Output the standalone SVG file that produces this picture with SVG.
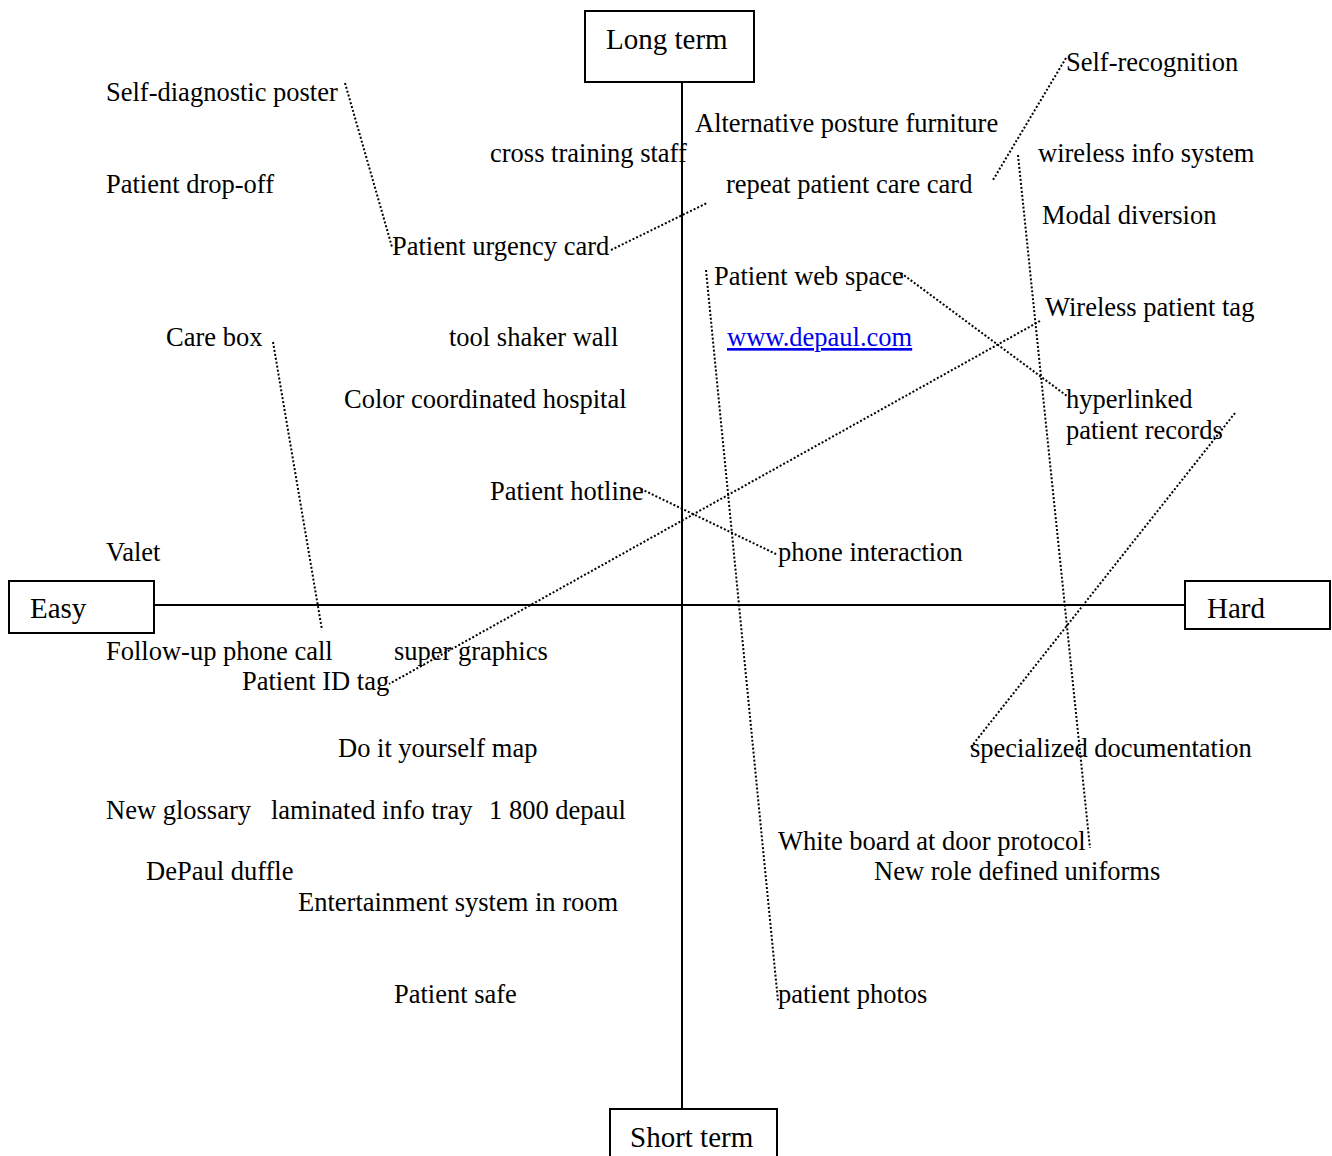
<svg xmlns="http://www.w3.org/2000/svg" width="1332" height="1156" viewBox="0 0 1332 1156">
  <style>
    text { font-family: "Liberation Serif", "Times New Roman", serif; fill: #000; }
    .item { font-size: 26.5px; }
    .axis-label { font-size: 29px; }
    .box { fill: #fff; stroke: #000; stroke-width: 2; }
    .axis { stroke: #000; stroke-width: 2; fill: none; }
    .link { stroke: #000; stroke-width: 2; stroke-dasharray: 2 2; fill: none; }
    .url { fill: #0000ee; text-decoration: underline; }
  </style>
  <rect width="1332" height="1156" fill="#fff"/>

  <!-- axes -->
  <g id="axes">
    <line class="axis" x1="682" y1="82" x2="682" y2="1109"/>
    <line class="axis" x1="154" y1="605" x2="1185" y2="605"/>
  </g>

  <!-- dotted links between ideas -->
  <g id="connectors">
    <line class="link" x1="345" y1="83" x2="392" y2="247"/>
    <line class="link" x1="611" y1="250" x2="707" y2="203"/>
    <line class="link" x1="1066" y1="58" x2="993" y2="180"/>
    <line class="link" x1="1018" y1="155" x2="1090" y2="848"/>
    <line class="link" x1="706" y1="270" x2="778" y2="1001"/>
    <line class="link" x1="901" y1="273" x2="1067" y2="396"/>
    <line class="link" x1="1040" y1="321" x2="389" y2="684"/>
    <line class="link" x1="1235" y1="413" x2="971" y2="747"/>
    <line class="link" x1="641" y1="489" x2="778" y2="555"/>
    <line class="link" x1="273" y1="342" x2="322" y2="630"/>
  </g>

  <!-- axis end boxes -->
  <g id="long-term">
    <rect class="box" x="585" y="11" width="169" height="71"/>
    <text class="axis-label" x="606" y="49">Long term</text>
  </g>
  <g id="short-term">
    <rect class="box" x="610" y="1109" width="167" height="60"/>
    <text class="axis-label" x="630" y="1147">Short term</text>
  </g>
  <g id="easy">
    <rect class="box" x="9" y="581" width="145" height="52"/>
    <text class="axis-label" x="30" y="618">Easy</text>
  </g>
  <g id="hard">
    <rect class="box" x="1185" y="581" width="145" height="48"/>
    <text class="axis-label" x="1207" y="618">Hard</text>
  </g>

  <!-- ideas -->
  <g id="self-diagnostic-poster"><text class="item" x="106" y="101">Self-diagnostic poster</text></g>
  <g id="patient-drop-off"><text class="item" x="106" y="193">Patient drop-off</text></g>
  <g id="cross-training-staff"><text class="item" x="490" y="162">cross training staff</text></g>
  <g id="alternative-posture-furniture"><text class="item" x="695" y="132">Alternative posture furniture</text></g>
  <g id="self-recognition"><text class="item" x="1066" y="71">Self-recognition</text></g>
  <g id="wireless-info-system"><text class="item" x="1038" y="162">wireless info system</text></g>
  <g id="repeat-patient-care-card"><text class="item" x="726" y="193">repeat patient care card</text></g>
  <g id="modal-diversion"><text class="item" x="1042" y="224">Modal diversion</text></g>
  <g id="patient-urgency-card"><text class="item" x="392" y="255">Patient urgency card</text></g>
  <g id="patient-web-space"><text class="item" x="714" y="285">Patient web space</text></g>
  <g id="wireless-patient-tag"><text class="item" x="1045" y="316">Wireless patient tag</text></g>
  <g id="care-box"><text class="item" x="166" y="346">Care box</text></g>
  <g id="tool-shaker-wall"><text class="item" x="449" y="346">tool shaker wall</text></g>
  <g id="depaul-url"><text class="item url" x="727" y="346">www.depaul.com</text></g>
  <g id="color-coordinated-hospital"><text class="item" x="344" y="408">Color coordinated hospital</text></g>
  <g id="hyperlinked-patient-records">
    <text class="item" x="1066" y="408">hyperlinked</text>
    <text class="item" x="1066" y="439">patient records</text>
  </g>
  <g id="patient-hotline"><text class="item" x="490" y="500">Patient hotline</text></g>
  <g id="valet"><text class="item" x="106" y="561">Valet</text></g>
  <g id="phone-interaction"><text class="item" x="778" y="561">phone interaction</text></g>
  <g id="follow-up-phone-call"><text class="item" x="106" y="660">Follow-up phone call</text></g>
  <g id="super-graphics"><text class="item" x="394" y="660">super graphics</text></g>
  <g id="patient-id-tag"><text class="item" x="242" y="690">Patient ID tag</text></g>
  <g id="do-it-yourself-map"><text class="item" x="338" y="757">Do it yourself map</text></g>
  <g id="specialized-documentation"><text class="item" x="970" y="757">specialized documentation</text></g>
  <g id="new-glossary"><text class="item" x="106" y="819">New glossary</text></g>
  <g id="laminated-info-tray"><text class="item" x="271" y="819">laminated info tray</text></g>
  <g id="phone-1-800-depaul"><text class="item" x="489" y="819">1 800 depaul</text></g>
  <g id="white-board-protocol"><text class="item" x="778" y="850">White board at door protocol</text></g>
  <g id="new-role-uniforms"><text class="item" x="874" y="880">New role defined uniforms</text></g>
  <g id="depaul-duffle"><text class="item" x="146" y="880">DePaul duffle</text></g>
  <g id="entertainment-system"><text class="item" x="298" y="911">Entertainment system in room</text></g>
  <g id="patient-safe"><text class="item" x="394" y="1003">Patient safe</text></g>
  <g id="patient-photos"><text class="item" x="778" y="1003">patient photos</text></g>
</svg>
